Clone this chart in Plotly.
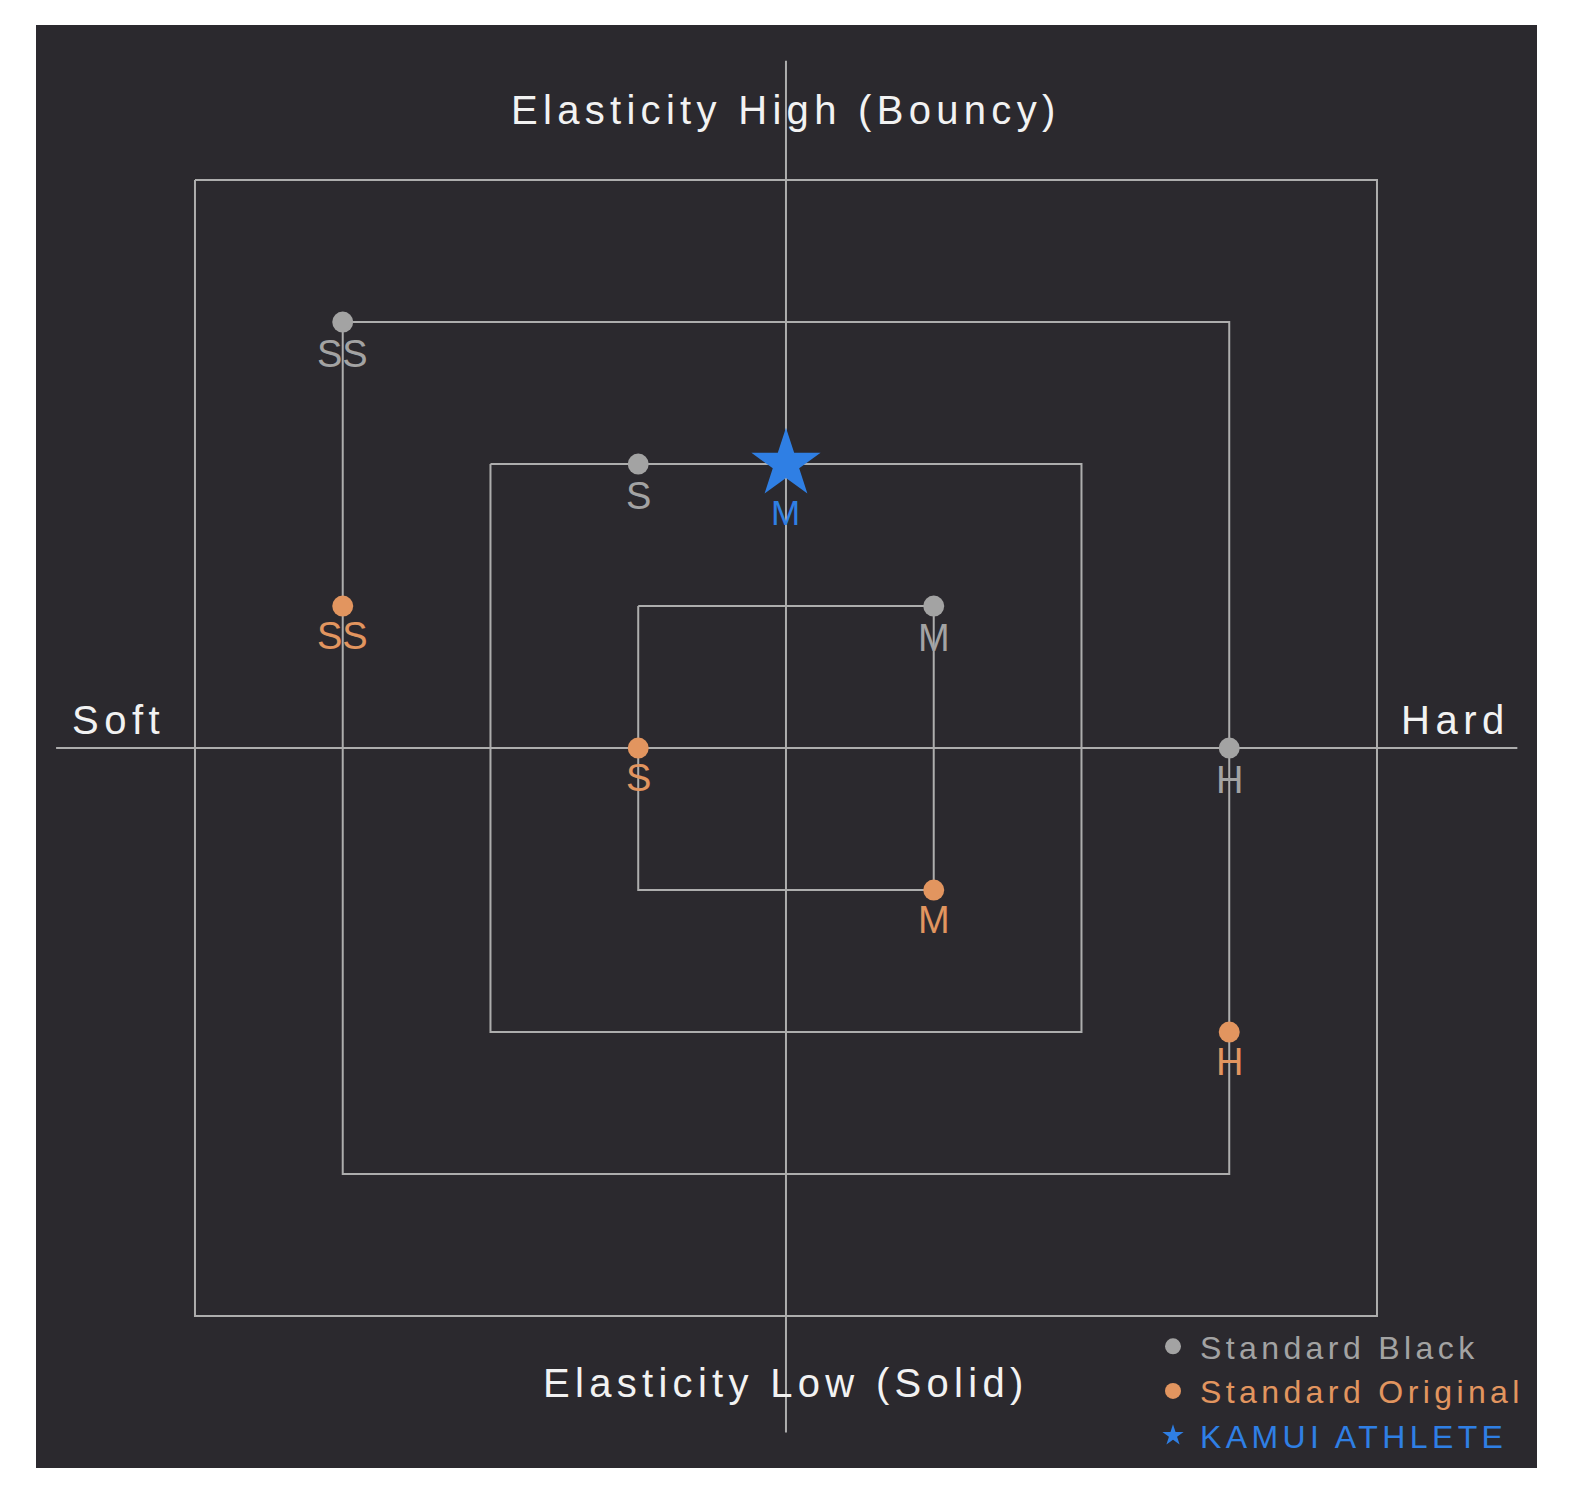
import plotly.graph_objects as go

# guide squares (half-size in grid units)
levels = [1, 2, 3, 4]

# softness (x) / elasticity (y) positions on the grid
sizes = ["SS", "S", "M", "H"]
black_x = [-3, -1, 1, 3]
black_y = [3, 2, 1, 0]
original_x = [-3, -1, 1, 3]
original_y = [1, 0, -1, -2]
kamui_x = [0]
kamui_y = [2]
kamui_sizes = ["M"]

# how far the two centre axes reach
axis_x = [-4.94, 4.95]
axis_y = [-4.82, 4.84]

BG = "#2b292e"
LINE = "#adadad"
GRAY = "#a3a3a3"
ORANGE = "#e2955f"
BLUE = "#2f7fe4"
WHITE = "#f2f2f2"
FONT = "Liberation Sans, Arial, sans-serif"


def spaced(t, px, color=None):
    # wide tracking like the original artwork
    style = "letter-spacing:%spx" % px
    if color:
        style += ";color:" + color
    return "<span style='%s'>%s</span>" % (style, t)


fig = go.Figure()

# squares
for lv in levels:
    fig.add_trace(go.Scatter(
        x=[-lv, lv, lv, -lv, -lv], y=[lv, lv, -lv, -lv, lv],
        mode="lines", line=dict(color=LINE, width=2),
        hoverinfo="skip", showlegend=False))

# cross
fig.add_trace(go.Scatter(x=axis_x, y=[0, 0], mode="lines",
                         line=dict(color=LINE, width=2), hoverinfo="skip", showlegend=False))
fig.add_trace(go.Scatter(x=[0, 0], y=axis_y, mode="lines",
                         line=dict(color=LINE, width=2), hoverinfo="skip", showlegend=False))

fig.add_trace(go.Scatter(
    x=black_x, y=black_y, mode="markers", text=sizes,
    marker=dict(color=GRAY, size=21),
    name=spaced("Standard Black", 4.4, GRAY)))
fig.add_trace(go.Scatter(
    x=original_x, y=original_y, mode="markers", text=sizes,
    marker=dict(color=ORANGE, size=21),
    name=spaced("Standard Original", 4.4, ORANGE)))
fig.add_trace(go.Scatter(
    x=kamui_x, y=kamui_y, mode="markers", text=kamui_sizes,
    marker=dict(color=BLUE, size=52, symbol="star"),
    name=spaced("KAMUI ATHLETE", 4.4, BLUE)))

# point labels under each marker
annotations = []
for xs, ys, labels, col, shift, fs in [
    (black_x, black_y, sizes, GRAY, -32, 38),
    (original_x, original_y, sizes, ORANGE, -30, 38),
    (kamui_x, kamui_y, kamui_sizes, BLUE, -48, 35),
]:
    for x, y, t in zip(xs, ys, labels):
        annotations.append(dict(x=x, y=y, text=t, showarrow=False, yshift=shift,
                                font=dict(color=col, size=fs, family=FONT)))

# axis captions
cap_font = dict(color=WHITE, size=40, family=FONT)
annotations += [
    dict(x=0, y=4.49, text=spaced("Elasticity High (Bouncy)", 5.3), showarrow=False, font=cap_font),
    dict(x=0, y=-4.47, text=spaced("Elasticity Low (Solid)", 5.3), showarrow=False, font=cap_font),
    dict(x=-4.52, y=0.2, text=spaced("Soft", 5.5), showarrow=False, font=cap_font),
    dict(x=4.53, y=0.2, text=spaced("Hard", 5.5), showarrow=False, font=cap_font),
]

fig.update_layout(
    width=1588, height=1500,
    margin=dict(l=36, r=51, t=25, b=32, autoexpand=False),
    paper_bgcolor="white", plot_bgcolor=BG,
    annotations=annotations,
    showlegend=True,
    legend=dict(xref="container", yref="container", x=1146 / 1588, y=1 - 1319 / 1500,
                xanchor="left", yanchor="top", bgcolor="rgba(0,0,0,0)",
                font=dict(size=32, family=FONT), itemwidth=44,
                tracegroupgap=0, itemclick=False, itemdoubleclick=False),
)
fig.update_xaxes(range=[-5.076, 5.083], visible=False, fixedrange=True)
fig.update_yaxes(range=[-5.07, 5.092], visible=False, fixedrange=True)

fig.write_html("out.html", config={"displayModeBar": False},
               post_script="document.body.style.margin='0';")
